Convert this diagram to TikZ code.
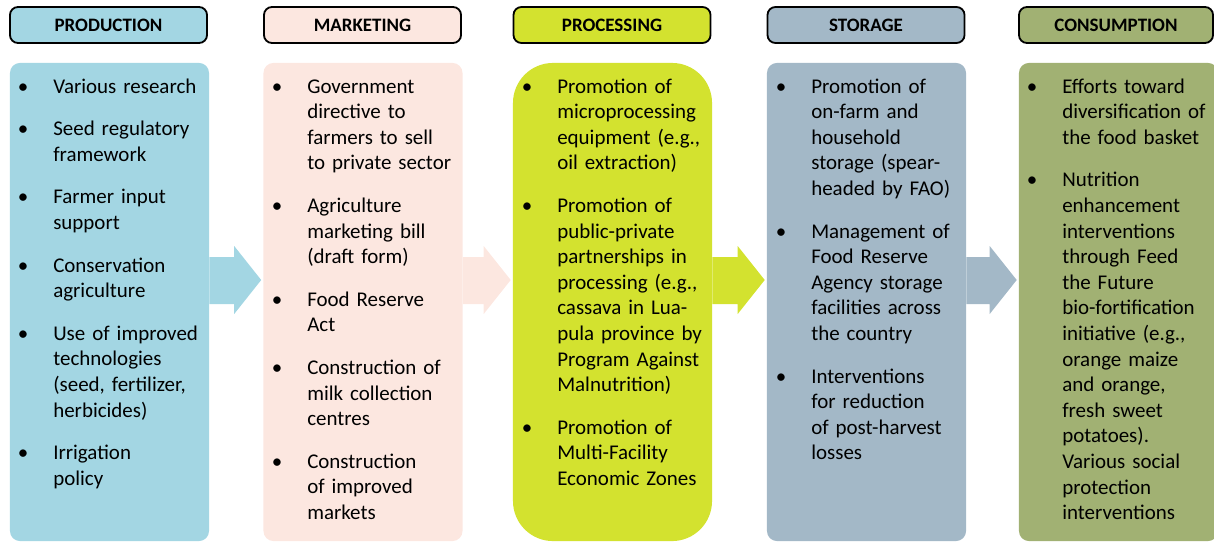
\documentclass[tikz,border=0pt]{standalone}
\usepackage{fontspec}
\setmainfont{Carlito}
\usetikzlibrary{positioning,calc}

\definecolor{prodblue}{RGB}{163,214,227}
\definecolor{mktpink}{RGB}{252,231,224}
\definecolor{proclime}{RGB}{211,226,47}
\definecolor{storgrey}{RGB}{163,184,199}
\definecolor{consgreen}{RGB}{161,177,115}

\tikzset{
  head/.style={draw=black, line width=1.3pt, rounded corners=0.2cm, minimum width=4.925cm, minimum height=0.9cm, inner sep=0pt, font=\fontsize{13.5}{16}\selectfont\bfseries},
  body/.style={rounded corners=0.25cm, minimum width=4.975cm, minimum height=11.95cm, inner sep=0pt},
  item/.style={anchor=north west, text width=4cm, align=left, inner sep=0pt, font=\fontsize{14.9}{18.2}\selectfont},
  dot/.style={anchor=north, inner sep=0pt, font=\fontsize{14.9}{18.2}\selectfont},
}

\begin{document}
\begin{tikzpicture}[x=0.025cm,y=-0.025cm]
			\useasboundingbox (0,0) rectangle (1214,541);
			% headers
			\node[head, fill=prodblue] (prodhead) at (108.5,25) {PRODUCTION};
			\node[head, fill=mktpink] (mkthead) at (362.5,25) {MARKETING};
			\node[head, fill=proclime] (prochead) at (612,25) {PROCESSING};
			\node[head, fill=storgrey] (storhead) at (866,25) {STORAGE};
			\node[head, fill=consgreen, minimum width=4.85cm] (conshead) at (1116,25) {CONSUMPTION};
			% columns
			\node[body, fill=prodblue] (prodbody) at (109.5,302) {};
			\node[body, fill=mktpink] (mktbody) at (363,302) {};
			\node[body, fill=proclime, rounded corners=1cm] (procbody) at (612.5,302) {};
			\node[body, fill=storgrey] (storbody) at (866.5,302) {};
			\node[body, fill=consgreen] (consbody) at (1118.5,302) {};
			% block arrows between the columns
			\foreach \a/\b/\c in {prodbody/mktbody/prodblue, mktbody/procbody/mktpink, procbody/storbody/proclime, storbody/consbody/storgrey}
				\fill[\c] (\a.east |- 0,257) -- ($(\b.west |- 0,257)+(-29,0)$) -- ($(\b.west |- 0,246)+(-29,0)$)
					-- ($(\b.west |- 0,280)+(-2,0)$) -- ($(\b.west |- 0,314)+(-29,0)$) -- ($(\b.west |- 0,304)+(-29,0)$)
					-- (\a.east |- 0,304) -- cycle;
			% production
			\node[item] (p1) at (53,75) {\strut Various research\strut};
			\node[item, below=0.41cm of p1] (p2) {\strut Seed regulatory\\framework\strut};
			\node[item, below=0.41cm of p2] (p3) {\strut Farmer input\\support\strut};
			\node[item, below=0.41cm of p3] (p4) {\strut Conservation\\agriculture\strut};
			\node[item, below=0.41cm of p4] (p5) {\strut Use of improved\\technologies\\(seed, fertilizer,\\herbicides)\strut};
			\node[item, below=0.41cm of p5] (p6) {\strut Irrigation\\policy\strut};
			% marketing
			\node[item] (m1) at (307,75) {\strut Government\\directive to\\farmers to sell\\to private sector\strut};
			\node[item, below=0.41cm of m1] (m2) {\strut Agriculture\\marketing bill\\(draft form)\strut};
			\node[item, below=0.41cm of m2] (m3) {\strut Food Reserve\\Act\strut};
			\node[item, below=0.41cm of m3] (m4) {\strut Construction of\\milk collection\\centres\strut};
			\node[item, below=0.41cm of m4] (m5) {\strut Construction\\of improved\\markets\strut};
			% processing
			\node[item] (r1) at (557,75) {\strut Promotion of\\microprocessing\\equipment (e.g.,\\oil extraction)\strut};
			\node[item, below=0.41cm of r1] (r2) {\strut Promotion of\\public-private\\partnerships in\\processing (e.g.,\\cassava in Lua-\\pula province by\\Program Against\\Malnutrition)\strut};
			\node[item, below=0.41cm of r2] (r3) {\strut Promotion of\\Multi-Facility\\Economic Zones\strut};
			% storage
			\node[item] (s1) at (811,75) {\strut Promotion of\\on-farm and\\household\\storage (spear-\\headed by FAO)\strut};
			\node[item, below=0.41cm of s1] (s2) {\strut Management of\\Food Reserve\\Agency storage\\facilities across\\the country\strut};
			\node[item, below=0.41cm of s2] (s3) {\strut Interventions\\for reduction\\of post-harvest\\losses\strut};
			% consumption
			\node[item] (c1) at (1062,75) {\strut Efforts toward\\diversification of\\the food basket\strut};
			\node[item, below=0.41cm of c1] (c2) {\strut Nutrition\\enhancement\\interventions\\through Feed\\the Future\\bio-fortification\\initiative (e.g.,\\orange maize\\and orange,\\fresh sweet\\potatoes).\\Various social\\protection\\interventions\strut};
			% bullets
			\foreach \n in {p1,p2,p3,p4,p5,p6,m1,m2,m3,m4,m5,r1,r2,r3,s1,s2,s3,c1,c2}
				\node[dot] at ([xshift=-0.75cm]\n.north west) {\strut\textbullet};
		\end{tikzpicture}
\end{document}
